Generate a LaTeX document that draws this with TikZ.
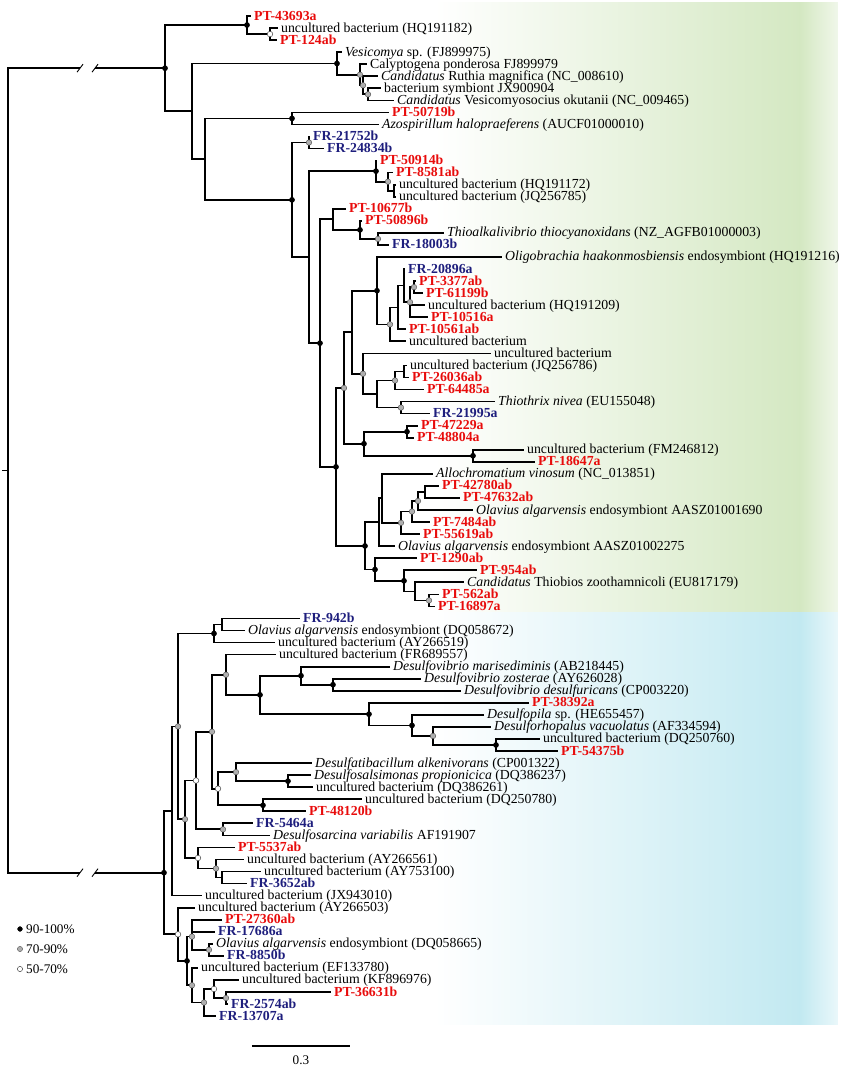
\documentclass[tikz,border=0pt]{standalone}
\usepackage{fontspec}
\setmainfont{Liberation Serif}
\definecolor{ptred}{RGB}{232, 12, 12}
\definecolor{frblue}{RGB}{30, 30, 125}
\definecolor{cladegreen}{RGB}{212, 232, 194}
\definecolor{cladeblue}{RGB}{194, 233, 241}
\definecolor{suppgray}{RGB}{175, 175, 175}
\usetikzlibrary{calc}

\begin{document}
\begin{tikzpicture}[x=1pt, y=-12.05pt,
    branch/.style={line width=1.7pt},
    leaf/.style={anchor=west, inner xsep=3pt, inner ysep=0pt, text height=9.5pt, text depth=1.5pt,
                 font=\fontsize{13.8}{15}\selectfont},
    ptlab/.style={leaf, text=ptred, font=\fontsize{13.8}{15}\selectfont\bfseries},
    frlab/.style={leaf, text=frblue, font=\fontsize{13.8}{15}\selectfont\bfseries},
    keytxt/.style={anchor=west, inner sep=0pt, font=\fontsize{13.2}{14}\selectfont},
    hi/.style={fill=black, draw=black, line width=0.4pt},
    mid/.style={fill=suppgray, draw=gray!60!black, line width=0.4pt},
    lo/.style={fill=white, draw=gray!60!black, line width=0.5pt}]
    \useasboundingbox (0,-0.328) rectangle (851,88.39);

    % clade backgrounds
    \shade[left color=white, right color=cladegreen] (435,-0.16) rectangle (800,50.46);
    \shade[left color=cladegreen, right color=cladegreen!35] (800,-0.16) rectangle (838,50.46);
    \shade[left color=white, right color=cladeblue] (435,50.54) rectangle (800,84.73);
    \shade[left color=cladeblue, right color=cladeblue!35] (800,50.54) rectangle (838,84.73);

    % ---------- upper clade: leaves ----------
    \node[ptlab] (pt43693a) at (251,1) {PT-43693a};
    \node[leaf]  (hq191182) at (278,2) {uncultured bacterium (HQ191182)};
    \node[ptlab] (pt124ab) at (277,3) {PT-124ab};
    \node[leaf]  (fj899975) at (342,4) {\textit{Vesicomya} sp. (FJ899975)};
    \node[leaf]  (fj899979) at (367,5) {Calyptogena ponderosa FJ899979};
    \node[leaf]  (nc008610) at (378,6) {\textit{Candidatus} Ruthia magnifica (NC\_008610)};
    \node[leaf]  (jx900904) at (381,7) {bacterium symbiont JX900904};
    \node[leaf]  (nc009465) at (394,8) {\textit{Candidatus} Vesicomyosocius okutanii (NC\_009465)};
    \node[ptlab] (pt50719b) at (389,9) {PT-50719b};
    \node[leaf]  (aucf) at (379,10) {\textit{Azospirillum halopraeferens} (AUCF01000010)};
    \node[frlab] (fr21752b) at (310,11) {FR-21752b};
    \node[frlab] (fr24834b) at (324,12) {FR-24834b};
    \node[ptlab] (pt50914b) at (377,13) {PT-50914b};
    \node[ptlab] (pt8581ab) at (393,14) {PT-8581ab};
    \node[leaf]  (hq191172) at (396,15) {uncultured bacterium (HQ191172)};
    \node[leaf]  (jq256785) at (396,16) {uncultured bacterium (JQ256785)};
    \node[ptlab] (pt10677b) at (346,17) {PT-10677b};
    \node[ptlab] (pt50896b) at (362,18) {PT-50896b};
    \node[leaf]  (nzagfb) at (444,19) {\textit{Thioalkalivibrio thiocyanoxidans} (NZ\_AGFB01000003)};
    \node[frlab] (fr18003b) at (389,20) {FR-18003b};
    \node[leaf]  (hq191216) at (502,21) {\textit{Oligobrachia haakonmosbiensis} endosymbiont (HQ191216)};
    \node[frlab] (fr20896a) at (405,22) {FR-20896a};
    \node[ptlab] (pt3377ab) at (416,23) {PT-3377ab};
    \node[ptlab] (pt61199b) at (423,24) {PT-61199b};
    \node[leaf]  (hq191209) at (425,25) {uncultured bacterium (HQ191209)};
    \node[ptlab] (pt10516a) at (428,26) {PT-10516a};
    \node[ptlab] (pt10561ab) at (406,27) {PT-10561ab};
    \node[leaf]  (unca) at (406,28) {uncultured bacterium};
    \node[leaf]  (uncb) at (491,29) {uncultured bacterium};
    \node[leaf]  (jq256786) at (407,30) {uncultured bacterium (JQ256786)};
    \node[ptlab] (pt26036ab) at (409,31) {PT-26036ab};
    \node[ptlab] (pt64485a) at (424,32) {PT-64485a};
    \node[leaf]  (eu155048) at (495,33) {\textit{Thiothrix nivea} (EU155048)};
    \node[frlab] (fr21995a) at (430,34) {FR-21995a};
    \node[ptlab] (pt47229a) at (418,35) {PT-47229a};
    \node[ptlab] (pt48804a) at (414,36) {PT-48804a};
    \node[leaf]  (fm246812) at (524,37) {uncultured bacterium (FM246812)};
    \node[ptlab] (pt18647a) at (535,38) {PT-18647a};
    \node[leaf]  (nc013851) at (433,39) {\textit{Allochromatium vinosum} (NC\_013851)};
    \node[ptlab] (pt42780ab) at (439,40) {PT-42780ab};
    \node[ptlab] (pt47632ab) at (460,41) {PT-47632ab};
    \node[leaf]  (aasz1690) at (473,42) {\textit{Olavius algarvensis} endosymbiont AASZ01001690};
    \node[ptlab] (pt7484ab) at (430,43) {PT-7484ab};
    \node[ptlab] (pt55619ab) at (420,44) {PT-55619ab};
    \node[leaf]  (aasz2275) at (395,45) {\textit{Olavius algarvensis} endosymbiont AASZ01002275};
    \node[ptlab] (pt1290ab) at (417,46) {PT-1290ab};
    \node[ptlab] (pt954ab) at (477,47) {PT-954ab};
    \node[leaf]  (eu817179) at (464,48) {\textit{Candidatus} Thiobios zoothamnicoli (EU817179)};
    \node[ptlab] (pt562ab) at (439,49) {PT-562ab};
    \node[ptlab] (pt16897a) at (435,50) {PT-16897a};

    % ---------- lower clade: leaves ----------
    \node[frlab] (fr942b) at (300,51) {FR-942b};
    \node[leaf]  (dq058672) at (245,52) {\textit{Olavius algarvensis} endosymbiont (DQ058672)};
    \node[leaf]  (ay266519) at (275,53) {uncultured bacterium (AY266519)};
    \node[leaf]  (fr689557) at (276,54) {uncultured bacterium (FR689557)};
    \node[leaf]  (ab218445) at (390,55) {\textit{Desulfovibrio marisediminis} (AB218445)};
    \node[leaf]  (ay626028) at (421,56) {\textit{Desulfovibrio zosterae} (AY626028)};
    \node[leaf]  (cp003220) at (461,57) {\textit{Desulfovibrio desulfuricans} (CP003220)};
    \node[ptlab] (pt38392a) at (529,58) {PT-38392a};
    \node[leaf]  (he655457) at (484,59) {\textit{Desulfopila} sp. (HE655457)};
    \node[leaf]  (af334594) at (491,60) {\textit{Desulforhopalus vacuolatus} (AF334594)};
    \node[leaf]  (dq250760) at (540,61) {uncultured bacterium (DQ250760)};
    \node[ptlab] (pt54375b) at (558,62) {PT-54375b};
    \node[leaf]  (cp001322) at (312,63) {\textit{Desulfatibacillum alkenivorans} (CP001322)};
    \node[leaf]  (dq386237) at (311,64) {\textit{Desulfosalsimonas propionicica} (DQ386237)};
    \node[leaf]  (dq386261) at (313,65) {uncultured bacterium (DQ386261)};
    \node[leaf]  (dq250780) at (362,66) {uncultured bacterium (DQ250780)};
    \node[ptlab] (pt48120b) at (306,67) {PT-48120b};
    \node[frlab] (fr5464a) at (253,68) {FR-5464a};
    \node[leaf]  (af191907) at (270,69) {\textit{Desulfosarcina variabilis} AF191907};
    \node[ptlab] (pt5537ab) at (235,70) {PT-5537ab};
    \node[leaf]  (ay266561) at (244,71) {uncultured bacterium (AY266561)};
    \node[leaf]  (ay753100) at (261,72) {uncultured bacterium (AY753100)};
    \node[frlab] (fr3652ab) at (247,73) {FR-3652ab};
    \node[leaf]  (jx943010) at (202,74) {uncultured bacterium (JX943010)};
    \node[leaf]  (ay266503) at (195,75) {uncultured bacterium (AY266503)};
    \node[ptlab] (pt27360ab) at (222,76) {PT-27360ab};
    \node[frlab] (fr17686a) at (215,77) {FR-17686a};
    \node[leaf]  (dq058665) at (213,78) {\textit{Olavius algarvensis} endosymbiont (DQ058665)};
    \node[frlab] (fr8850b) at (224,79) {FR-8850b};
    \node[leaf]  (ef133780) at (198,80) {uncultured bacterium (EF133780)};
    \node[leaf]  (kf896976) at (239,81) {uncultured bacterium (KF896976)};
    \node[ptlab] (pt36631b) at (331,82) {PT-36631b};
    \node[frlab] (fr2574ab) at (228,83) {FR-2574ab};
    \node[frlab] (fr13707a) at (216,84) {FR-13707a};

    % ---------- internal nodes ----------
    \coordinate (nT0) at (165,5.33);   \coordinate (nA) at (247,1.75);
    \coordinate (nB) at (270,2.5);     \coordinate (nC) at (192,8.91);
    \coordinate (nD) at (337,4.94);    \coordinate (nF) at (360,5.875);
    \coordinate (nG) at (363,6.75);    \coordinate (nH) at (368,7.5);
    \coordinate (nE) at (205,12.88);   \coordinate (nI) at (292,9.5);
    \coordinate (nJ) at (292,16.26);   \coordinate (nK) at (309,11.5);
    \coordinate (nL) at (309,21.01);   \coordinate (nM) at (376,13.875);
    \coordinate (nO) at (388,14.75);   \coordinate (nP) at (394,15.5);
    \coordinate (nN) at (320,28.15);   \coordinate (nQ) at (333,17.875);
    \coordinate (nS) at (360,18.75);   \coordinate (nT) at (378,19.5);
    \coordinate (nR) at (336,38.42);   \coordinate (nU) at (344,31.87);
    \coordinate (nY) at (352,27.24);   \coordinate (nX) at (377,23.80);
    \coordinate (nAB) at (390,26.59);  \coordinate (nAC) at (398,25.19);
    \coordinate (nAD) at (404,23.375); \coordinate (nAE) at (410,24.75);
    \coordinate (nAF) at (414,23.5);   \coordinate (nAA) at (363,30.69);
    \coordinate (nAI) at (377,32.375); \coordinate (nAJ) at (395,31.25);
    \coordinate (nAL) at (404,30.5);   \coordinate (nAK) at (401,33.5);
    \coordinate (nZ) at (364,36.5);    \coordinate (nAM) at (407,35.5);
    \coordinate (nAN) at (473,37.5);   \coordinate (nV) at (365,44.98);
    \coordinate (nAO) at (379,43.02);  \coordinate (nAQ) at (382,41.03);
    \coordinate (nAR) at (401,43.06);  \coordinate (nAS) at (412,42.125);
    \coordinate (nAT) at (418,41.25);  \coordinate (nAU) at (425,40.5);
    \coordinate (nAP) at (375,46.94);  \coordinate (nAV) at (404,47.875);
    \coordinate (nAW) at (415,48.75);  \coordinate (nAX) at (429,49.5);

    \coordinate (nB0) at (164,72.10);  \coordinate (nBA) at (172,66.98);
    \coordinate (nBB) at (178,59.96);  \coordinate (nBC) at (214,52.25);
    \coordinate (nBX) at (222,51.5);   \coordinate (nBE) at (185,67.66);
    \coordinate (nBF) at (196,64.45);  \coordinate (nBH) at (212,60.40);
    \coordinate (nBJ) at (226,55.67);  \coordinate (nBL) at (260,57.34);
    \coordinate (nBM) at (301,55.75);  \coordinate (nBO) at (333,56.5);
    \coordinate (nBN) at (369,58.94);  \coordinate (nBP) at (412,59.875);
    \coordinate (nBQ) at (433,60.75);  \coordinate (nBR) at (496,61.5);
    \coordinate (nBK) at (218,65.125); \coordinate (nBS) at (236,63.75);
    \coordinate (nBU) at (288,64.5);   \coordinate (nBT) at (263,66.5);
    \coordinate (nBI) at (223,68.5);   \coordinate (nBG) at (198,70.875);
    \coordinate (nBV) at (216,71.75);  \coordinate (nBW) at (222,72.5);
    \coordinate (nBY) at (178,77.21);  \coordinate (nBZ) at (187,79.42);
    \coordinate (nCA) at (192,77.4);   \coordinate (nCC) at (209,78.5);
    \coordinate (nCB) at (192,81.44);  \coordinate (nCE) at (204,82.875);
    \coordinate (nCF) at (214,81.75);  \coordinate (nCG) at (226,82.5);

    % root and cut branches
    \coordinate (root) at (8,38.71);
    \coordinate (cutTa) at (80,5.33);  \coordinate (cutTb) at (95,5.33);
    \coordinate (cutBa) at (80,72.10); \coordinate (cutBb) at (95,72.10);

    % ---------- branches, upper clade ----------
    \draw[branch] (cutTa) -| (root) |- (cutBa);
    \draw[branch] (root) -- ++(-6,0);
    \draw[branch] (cutTb) -- (nT0);
    \draw[branch] (cutBb) -- (nB0);
    \foreach \c in {cutTa,cutTb,cutBa,cutBb}
        \draw[line width=0.9pt] ([shift={(-3pt,-4pt)}]\c) -- ([shift={(3pt,4pt)}]\c);

    \draw[branch] (nA) -| (nT0) |- (nC);
    \draw[branch] (pt43693a.west) -| (nA) |- (nB);
    \draw[branch] (hq191182.west) -| (nB) |- (pt124ab.west);
    \draw[branch] (nD) -| (nC) |- (nE);
    \draw[branch] (fj899975.west) -| (nD) |- (nF);
    \draw[branch] (fj899979.west) -| (nF) |- (nG);
    \draw[branch] (nc008610.west) -| (nG) |- (nH);
    \draw[branch] (jx900904.west) -| (nH) |- (nc009465.west);
    \draw[branch] (nI) -| (nE) |- (nJ);
    \draw[branch] (pt50719b.west) -| (nI) |- (aucf.west);
    \draw[branch] (nK) -| (nJ) |- (nL);
    \draw[branch] (fr21752b.west) -| (nK) |- (fr24834b.west);
    \draw[branch] (nM) -| (nL) |- (nN);
    \draw[branch] (pt50914b.west) -| (nM) |- (nO);
    \draw[branch] (pt8581ab.west) -| (nO) |- (nP);
    \draw[branch] (hq191172.west) -| (nP) |- (jq256785.west);
    \draw[branch] (nQ) -| (nN) |- (nR);
    \draw[branch] (pt10677b.west) -| (nQ) |- (nS);
    \draw[branch] (pt50896b.west) -| (nS) |- (nT);
    \draw[branch] (nzagfb.west) -| (nT) |- (fr18003b.west);
    \draw[branch] (nU) -| (nR) |- (nV);
    \draw[branch] (nY) -| (nU) |- (nZ);
    \draw[branch] (nX) -| (nY) |- (nAA);
    \draw[branch] (hq191216.west) -| (nX) |- (nAB);
    \draw[branch] (nAC) -| (nAB) |- (unca.west);
    \draw[branch] (nAD) -| (nAC) |- (pt10561ab.west);
    \draw[branch] (fr20896a.west) -| (nAD) |- (nAE);
    \draw[branch] (nAF) -| (nAE) |- (pt10516a.west) (nAE) |- (hq191209.west);
    \draw[branch] (pt3377ab.west) -| (nAF) |- (pt61199b.west);
    \draw[branch] (uncb.west) -| (nAA) |- (nAI);
    \draw[branch] (nAJ) -| (nAI) |- (nAK);
    \draw[branch] (nAL) -| (nAJ) |- (pt64485a.west);
    \draw[branch] (jq256786.west) -| (nAL) |- (pt26036ab.west);
    \draw[branch] (eu155048.west) -| (nAK) |- (fr21995a.west);
    \draw[branch] (nAM) -| (nZ) |- (nAN);
    \draw[branch] (pt47229a.west) -| (nAM) |- (pt48804a.west);
    \draw[branch] (fm246812.west) -| (nAN) |- (pt18647a.west);
    \draw[branch] (nAO) -| (nV) |- (nAP);
    \draw[branch] (nAQ) -| (nAO) |- (aasz2275.west);
    \draw[branch] (nc013851.west) -| (nAQ) |- (nAR);
    \draw[branch] (nAS) -| (nAR) |- (pt55619ab.west);
    \draw[branch] (nAT) -| (nAS) |- (pt7484ab.west);
    \draw[branch] (nAU) -| (nAT) |- (aasz1690.west);
    \draw[branch] (pt42780ab.west) -| (nAU) |- (pt47632ab.west);
    \draw[branch] (pt1290ab.west) -| (nAP) |- (nAV);
    \draw[branch] (pt954ab.west) -| (nAV) |- (nAW);
    \draw[branch] (eu817179.west) -| (nAW) |- (nAX);
    \draw[branch] (pt562ab.west) -| (nAX) |- (pt16897a.west);

    % ---------- branches, lower clade ----------
    \draw[branch] (nBA) -| (nB0) |- (nBY);
    \draw[branch] (nBB) -| (nBA) |- (jx943010.west);
    \draw[branch] (nBC) -| (nBB) |- (nBE);
    \draw[branch] (nBX) -| (nBC) |- (ay266519.west);
    \draw[branch] (fr942b.west) -| (nBX) |- (dq058672.west);
    \draw[branch] (nBF) -| (nBE) |- (nBG);
    \draw[branch] (nBH) -| (nBF) |- (nBI);
    \draw[branch] (nBJ) -| (nBH) |- (nBK);
    \draw[branch] (fr689557.west) -| (nBJ) |- (nBL);
    \draw[branch] (nBM) -| (nBL) |- (nBN);
    \draw[branch] (ab218445.west) -| (nBM) |- (nBO);
    \draw[branch] (ay626028.west) -| (nBO) |- (cp003220.west);
    \draw[branch] (pt38392a.west) -| (nBN) |- (nBP);
    \draw[branch] (he655457.west) -| (nBP) |- (nBQ);
    \draw[branch] (af334594.west) -| (nBQ) |- (nBR);
    \draw[branch] (dq250760.west) -| (nBR) |- (pt54375b.west);
    \draw[branch] (nBS) -| (nBK) |- (nBT);
    \draw[branch] (cp001322.west) -| (nBS) |- (nBU);
    \draw[branch] (dq386237.west) -| (nBU) |- (dq386261.west);
    \draw[branch] (dq250780.west) -| (nBT) |- (pt48120b.west);
    \draw[branch] (fr5464a.west) -| (nBI) |- (af191907.west);
    \draw[branch] (pt5537ab.west) -| (nBG) |- (nBV);
    \draw[branch] (ay266561.west) -| (nBV) |- (nBW);
    \draw[branch] (ay753100.west) -| (nBW) |- (fr3652ab.west);
    \draw[branch] (ay266503.west) -| (nBY) |- (nBZ);
    \draw[branch] (nCA) -| (nBZ) |- (nCB);
    \draw[branch] (pt27360ab.west) -| (nCA) |- (nCC) (nCA) |- (fr17686a.west);
    \draw[branch] (dq058665.west) -| (nCC) |- (fr8850b.west);
    \draw[branch] (ef133780.west) -| (nCB) |- (nCE);
    \draw[branch] (nCF) -| (nCE) |- (fr13707a.west);
    \draw[branch] (kf896976.west) -| (nCF) |- (nCG);
    \draw[branch] (pt36631b.west) -| (nCG) |- (fr2574ab.west);

    % ---------- bootstrap support ----------
    \foreach \n in {nT0,nA,nD,nI,nJ,nM,nN,nS,nX,nZ,nAM,nAN,nR,nV,nAP,nAV,
                    nB0,nBC,nBL,nBM,nBO,nBN,nBP,nBR,nBU,nBT,nBZ}
        \filldraw[hi] (\n) circle (2.6pt);
    \foreach \n in {nF,nG,nH,nK,nO,nT,nAB,nAE,nAF,nAA,nAJ,nAK,nU,nAR,nAS,nAT,nAX,
                    nBB,nBE,nBH,nBJ,nBQ,nBS,nBI,nBV,nCA,nCC,nCB,nCE,nCG}
        \filldraw[mid] (\n) circle (2.8pt);
    \foreach \n in {nB,nBF,nBK,nBG,nBY,nCF}
        \filldraw[lo] (\n) circle (2.8pt);

    % legend
    \filldraw[hi] (20,76.77) circle (2.4pt);
    \node[keytxt] (key90) at (26,76.77) {90-100\%};
    \filldraw[mid] (20,78.43) circle (2.6pt);
    \node[keytxt] (key70) at (26,78.43) {70-90\%};
    \filldraw[lo] (20,80.09) circle (2.6pt);
    \node[keytxt] (key50) at (26,80.09) {50-70\%};

    % scale bar
    \coordinate (barL) at (252,86.48);
    \coordinate (barR) at (350,86.48);
    \draw[line width=1.1pt] (barL) -- (barR);
    \node[keytxt, anchor=north] (barlab) at ($(barL)!0.5!(barR)+(0,0.75)$) {0.3};
\end{tikzpicture}
\end{document}
